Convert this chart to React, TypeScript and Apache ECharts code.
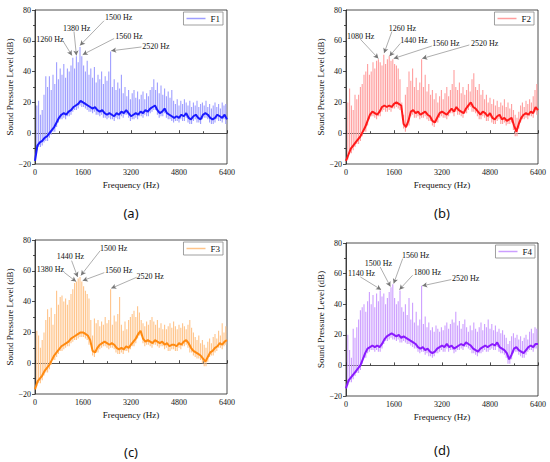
import React, { useEffect, useRef } from "react";
import * as echarts from "echarts";

const BASE_STEP = 80; // Hz between baseline samples (0..6400)
const SPIKE_STEP = 60; // Hz between tonal spikes (60..6360)
const X_TICKS = [0, 1600, 3200, 4800, 6400];
const Y_TICKS = [-20, 0, 20, 40, 60, 80];

const F1_BASE = [
  -18, -8, -6, -5, -3, -2, 0, 2, 4, 7,
  10, 12, 13, 12, 14, 15, 17, 18, 19, 21,
  20, 19, 18, 17, 16, 17, 15, 14, 15, 13,
  12, 13, 12, 11, 13, 12, 14, 13, 15, 13,
  11, 12, 13, 12, 14, 13, 15, 14, 16, 17,
  18, 15, 13, 14, 16, 13, 12, 11, 10, 11,
  10, 12, 11, 13, 10, 9, 11, 12, 10, 9,
  12, 13, 12, 10, 9, 10, 12, 11, 10, 12,
  9,
];
const F1_SPIKES = [
  18, 21, 12, 15, 25, 37, 30, 37, 28, 38,
  32, 46, 35, 42, 38, 45, 36, 42, 40, 44,
  49, 42, 50, 46, 56, 50, 44, 40, 47, 38,
  42, 36, 43, 33, 38, 35, 40, 32, 37, 34,
  40, 53, 30, 35, 28, 33, 29, 38, 26, 30,
  24, 28, 22, 26, 28, 23, 27, 22, 25, 27,
  22, 26, 24, 28, 30, 35, 28, 33, 26, 31,
  25, 29, 24, 27, 23, 28, 21, 19, 22, 18,
  21, 19, 22, 20, 18, 21, 17, 20, 18, 21,
  17, 19, 20, 18, 21, 17, 19, 16, 18, 20,
  17, 19, 16, 20, 18, 19,
];

const F2_BASE = [
  -18, -14, -10, -8, -6, -4, -2, 1, 4, 8,
  12, 14, 13, 12, 14, 17, 18, 17, 18, 17,
  19, 20, 19, 18, 6, 4, 8, 14, 15, 13,
  14, 12, 13, 14, 12, 11, 8, 7, 10, 13,
  14, 13, 12, 14, 16, 14, 17, 15, 14, 13,
  16, 18, 20, 17, 16, 14, 12, 14, 13, 11,
  13, 10, 9, 11, 12, 9, 10, 8, 9, 10,
  5, 1, 6, 10, 12, 13, 12, 14, 13, 17,
  15,
];
const F2_SPIKES = [
  20, 29, 18, 15, 25, 22, 25, 30, 32, 38,
  40, 45, 38, 40, 46, 42, 47, 48, 46, 44,
  51, 45, 48, 50, 47, 48, 45, 44, 42, 35,
  20, 12, 25, 30, 40, 34, 42, 30, 36, 28,
  33, 48, 30, 38, 27, 32, 25, 28, 22, 26,
  20, 24, 28, 22, 26, 30, 24, 28, 32, 41,
  30, 28, 33, 26, 30, 25, 28, 32, 27, 35,
  39, 30, 28, 32, 25, 28, 22, 25, 20, 23,
  19, 22, 18, 21, 17, 20, 18, 22, 17, 20,
  16, 19, 15, 12, 10, 14, 18, 20, 17, 21,
  19, 22, 20, 24, 28, 32,
];

const F3_BASE = [
  -17, -12, -10, -8, -5, -3, -1, 2, 5, 7,
  9, 11, 12, 13, 14, 16, 17, 18, 19, 20,
  20, 19, 18, 15, 8, 7, 10, 12, 13, 14,
  13, 12, 13, 12, 10, 9, 10, 9, 11, 10,
  12, 14, 16, 19, 21, 16, 14, 15, 14, 13,
  15, 14, 13, 14, 12, 13, 11, 12, 12, 11,
  13, 12, 14, 15, 13, 10, 8, 7, 6, 5,
  3, 1, 4, 7, 8, 10, 11, 13, 12, 14,
  15,
];
const F3_SPIKES = [
  21, 18, 10, 15, 20, 28, 35, 30, 36, 25,
  32, 47, 38, 43, 44, 40, 42, 38, 41, 45,
  48, 52, 53, 55, 56, 53, 50, 47, 45, 42,
  28, 18, 29, 26, 28, 24, 27, 25, 30, 26,
  28, 48, 25, 31, 27, 32, 43, 25, 21, 27,
  22, 28, 30, 32, 34, 30, 37, 33, 28, 26,
  24, 27, 25, 28, 30, 27, 25, 28, 23, 26,
  22, 25, 22, 24, 26, 23, 27, 24, 22, 25,
  23, 26, 24, 22, 25, 28, 23, 20, 17, 15,
  18, 13, 15, 12, 10, 14, 16, 13, 17, 19,
  16, 21, 18, 26, 20, 24,
];

const F4_BASE = [
  -15, -10, -8, -6, -4, -2, 0, 4, 8, 11,
  12, 13, 12, 13, 12, 14, 17, 19, 20, 21,
  20, 19, 20, 18, 19, 18, 17, 16, 15, 14,
  12, 11, 12, 10, 11, 9, 8, 9, 11, 12,
  13, 12, 14, 12, 13, 11, 12, 13, 14, 13,
  15, 14, 13, 11, 10, 9, 11, 12, 13, 12,
  13, 14, 13, 15, 12, 11, 10, 8, 4, 7,
  11, 12, 10, 9, 8, 10, 12, 13, 12, 14,
  14,
];
const F4_SPIKES = [
  20, 10, 5, 24, 18, 25, 30, 36, 38, 40,
  35, 42, 48, 40, 46, 38, 47, 42, 49, 45,
  47, 40, 44, 48, 51, 53, 44, 40, 42, 49,
  38, 35, 40, 33, 44, 30, 41, 28, 35, 26,
  30, 52, 27, 32, 25, 28, 23, 25, 22, 26,
  24, 22, 25, 23, 26, 28, 24, 27, 30, 28,
  35, 26, 29, 24, 27, 30, 25, 22, 26, 23,
  28, 24, 22, 25, 28, 23, 27, 25, 30, 24,
  27, 23, 26, 22, 24, 21, 23, 20, 18, 14,
  16, 19, 21, 18, 20, 17, 19, 16, 18, 20,
  17, 22, 24, 21, 25, 24,
];

// annotations: label, text centre [Hz, dB], arrow from, arrow to
const F1_ANN = [
  { label: "1260 Hz", text: [500, 61], from: [930, 60], to: [1230, 50.5] },
  { label: "1380 Hz", text: [1390, 68], from: [1300, 66], to: [1380, 50.5] },
  { label: "1500 Hz", text: [2790, 75], from: [2300, 73], to: [1500, 57] },
  { label: "1560 Hz", text: [3130, 62.5], from: [2640, 61.5], to: [1590, 51] },
  { label: "2520 Hz", text: [4030, 56.5], from: [3550, 56], to: [2540, 53.5] },
];
const F2_ANN = [
  { label: "1080 Hz", text: [490, 63], from: [480, 61], to: [1080, 48.5] },
  { label: "1260 Hz", text: [1880, 68], from: [1530, 66], to: [1270, 52] },
  { label: "1440 Hz", text: [2260, 60], from: [1810, 58.3], to: [1450, 50] },
  { label: "1560 Hz", text: [3330, 58.3], from: [2860, 56.6], to: [1590, 48.5] },
  { label: "2520 Hz", text: [4620, 58.3], from: [4110, 57.3], to: [2540, 48.5] },
];
const F3_ANN = [
  { label: "1380 Hz", text: [510, 61], from: [970, 59], to: [1370, 53] },
  { label: "1440 Hz", text: [1180, 69], from: [1220, 66.6], to: [1420, 56] },
  { label: "1500 Hz", text: [2620, 74.6], from: [2170, 73], to: [1530, 57] },
  { label: "1560 Hz", text: [2790, 60], from: [2310, 58.8], to: [1590, 53.6] },
  { label: "2520 Hz", text: [3840, 56.6], from: [3390, 55.8], to: [2540, 48.6] },
];
const F4_ANN = [
  { label: "1140 Hz", text: [520, 60], from: [480, 57.8], to: [1170, 49.5] },
  { label: "1500 Hz", text: [1080, 66.5], from: [1140, 64.3], to: [1480, 51.5] },
  { label: "1560 Hz", text: [2320, 72], from: [1890, 69.8], to: [1590, 53.5] },
  { label: "1800 Hz", text: [2710, 60.4], from: [2220, 58.9], to: [1780, 49.5] },
  { label: "2520 Hz", text: [3990, 56.8], from: [3510, 56.1], to: [2540, 52] },
];

const PANELS = [
  { name: "F1", tag: "(a)", base: F1_BASE, spikes: F1_SPIKES, ann: F1_ANN, dark: "#1a1aff", light: "#9e9eff" },
  { name: "F2", tag: "(b)", base: F2_BASE, spikes: F2_SPIKES, ann: F2_ANN, dark: "#ff1a1a", light: "#ff9e9e" },
  { name: "F3", tag: "(c)", base: F3_BASE, spikes: F3_SPIKES, ann: F3_ANN, dark: "#ff8a10", light: "#ffc48a" },
  { name: "F4", tag: "(d)", base: F4_BASE, spikes: F4_SPIKES, ann: F4_ANN, dark: "#8a1aff", light: "#cc9eff" },
];

// layout (pixels)
const LAYOUT = [
  { left: 35, top: 10, width: 192, height: 154, legendRight: 327, legendTop: 12, tagX: 131, tagY: 213 },
  { left: 346, top: 10, width: 192, height: 154, legendRight: 16, legendTop: 12, tagX: 442, tagY: 213 },
  { left: 35, top: 240, width: 192, height: 154, legendRight: 327, legendTop: 242, tagX: 131, tagY: 452 },
  { left: 346, top: 243, width: 192, height: 153, legendRight: 15, legendTop: 245, tagX: 442, tagY: 450 },
];

const SERIF = '"Liberation Serif", "Times New Roman", serif';

function buildOption() {
  const grid: any[] = [];
  const xAxis: any[] = [];
  const yAxis: any[] = [];
  const series: any[] = [];
  const legend: any[] = [];
  const graphic: any[] = [];

  PANELS.forEach((p, i) => {
    const L = LAYOUT[i];
    grid.push({
      left: L.left, top: L.top, width: L.width, height: L.height,
      show: true, borderColor: "#222", borderWidth: 0.8, backgroundColor: "transparent",
    });
    xAxis.push({
      type: "value", gridIndex: i,
      min: X_TICKS[0], max: X_TICKS[X_TICKS.length - 1], interval: X_TICKS[1] - X_TICKS[0],
      name: "Frequency (Hz)", nameLocation: "middle", nameGap: 16,
      nameTextStyle: { fontFamily: SERIF, fontSize: 9, color: "#111" },
      axisLine: { show: true, lineStyle: { color: "#222", width: 0.8 } },
      axisTick: { show: true, inside: true, length: 3, lineStyle: { color: "#222", width: 0.8 } },
      minorTick: { show: true, splitNumber: 2, length: 2, lineStyle: { color: "#222", width: 0.8 } },
      axisLabel: {
        fontFamily: SERIF, fontSize: 8, color: "#111", margin: 4,
        formatter: (v: number) => String(v),
      },
      splitLine: { show: false },
    });
    yAxis.push({
      type: "value", gridIndex: i,
      min: Y_TICKS[0], max: Y_TICKS[Y_TICKS.length - 1], interval: Y_TICKS[1] - Y_TICKS[0],
      name: "Sound Pressure Level (dB)", nameLocation: "middle", nameGap: 21,
      nameTextStyle: { fontFamily: SERIF, fontSize: 9, color: "#111" },
      axisLine: { show: true, lineStyle: { color: "#222", width: 0.8 } },
      axisTick: { show: true, inside: false, length: 3, lineStyle: { color: "#222", width: 0.8 } },
      minorTick: { show: true, splitNumber: 2, length: 2, lineStyle: { color: "#222", width: 0.8 } },
      axisLabel: {
        fontFamily: SERIF, fontSize: 8, color: "#111", margin: 4,
        formatter: (v: number) => (v < 0 ? "\u2212" + String(-v) : String(v)),
      },
      splitLine: { show: false },
    });

    const spikeData = p.spikes.map((v, k) => {
      const f = (k + 1) * SPIKE_STEP;
      const b = p.base[Math.min(p.base.length - 1, Math.round(f / BASE_STEP))];
      return [f, v, b - 3];
    });
    const light = p.light;
    series.push({
      type: "custom", name: p.name, xAxisIndex: i, yAxisIndex: i,
      clip: true,
      itemStyle: { color: light },
      encode: { x: 0, y: 1 },
      data: spikeData,
      renderItem: (params: any, api: any) => {
        const f = api.value(0);
        const top = api.value(1);
        const bot = api.value(2);
        const a = api.coord([f, bot]);
        const b = api.coord([f, top]);
        return {
          type: "line",
          shape: { x1: a[0], y1: a[1], x2: b[0], y2: b[1] },
          style: { stroke: light, lineWidth: 1.1 },
        };
      },
    });
    series.push({
      type: "line", name: p.name + " base", xAxisIndex: i, yAxisIndex: i,
      data: p.base.map((v, k) => [k * BASE_STEP, v]),
      symbol: "none", lineStyle: { color: p.dark, width: 2 }, itemStyle: { color: p.dark },
      clip: true, z: 3,
      markLine: {
        silent: true, symbol: ["none", "arrow"], symbolSize: [4, 5],
        lineStyle: { color: "#777", width: 0.6, type: "solid" },
        label: { show: false },
        data: p.ann.map((a) => [{ coord: a.from }, { coord: a.to }]),
      },
      markPoint: {
        silent: true, symbol: "circle", symbolSize: 1,
        itemStyle: { color: "rgba(0,0,0,0)" },
        label: {
          show: true, position: "inside", formatter: "{b}",
          fontFamily: SERIF, fontSize: 8, color: "#111",
        },
        data: p.ann.map((a) => ({ name: a.label, coord: a.text })),
      },
    });
    legend.push({
      data: [p.name], right: L.legendRight, top: L.legendTop,
      selectedMode: false, icon: "rect", itemWidth: 19, itemHeight: 1.5,
      padding: [2, 3, 2, 3], borderColor: "#888", borderWidth: 0.8,
      textStyle: { fontFamily: SERIF, fontSize: 9, color: "#111" },
    });
    graphic.push({
      type: "text", x: L.tagX, y: L.tagY,
      style: {
        text: p.tag, textAlign: "center", textVerticalAlign: "middle",
        font: '13px "Noto Sans", "Liberation Sans", sans-serif', fill: "#111",
      },
    });
  });

  return { animation: false, backgroundColor: "#fff", grid, xAxis, yAxis, series, legend, graphic };
}

export default function App() {
  const ref = useRef<HTMLDivElement>(null);
  useEffect(() => {
    if (!ref.current) return;
    const chart = echarts.init(ref.current, undefined, { renderer: "svg" });
    chart.setOption(buildOption());
    return () => chart.dispose();
  }, []);
  return (
    <div
      ref={ref}
      style={{ position: "absolute", left: 0, top: 0, width: 550, height: 462, background: "#fff" }}
    />
  );
}
